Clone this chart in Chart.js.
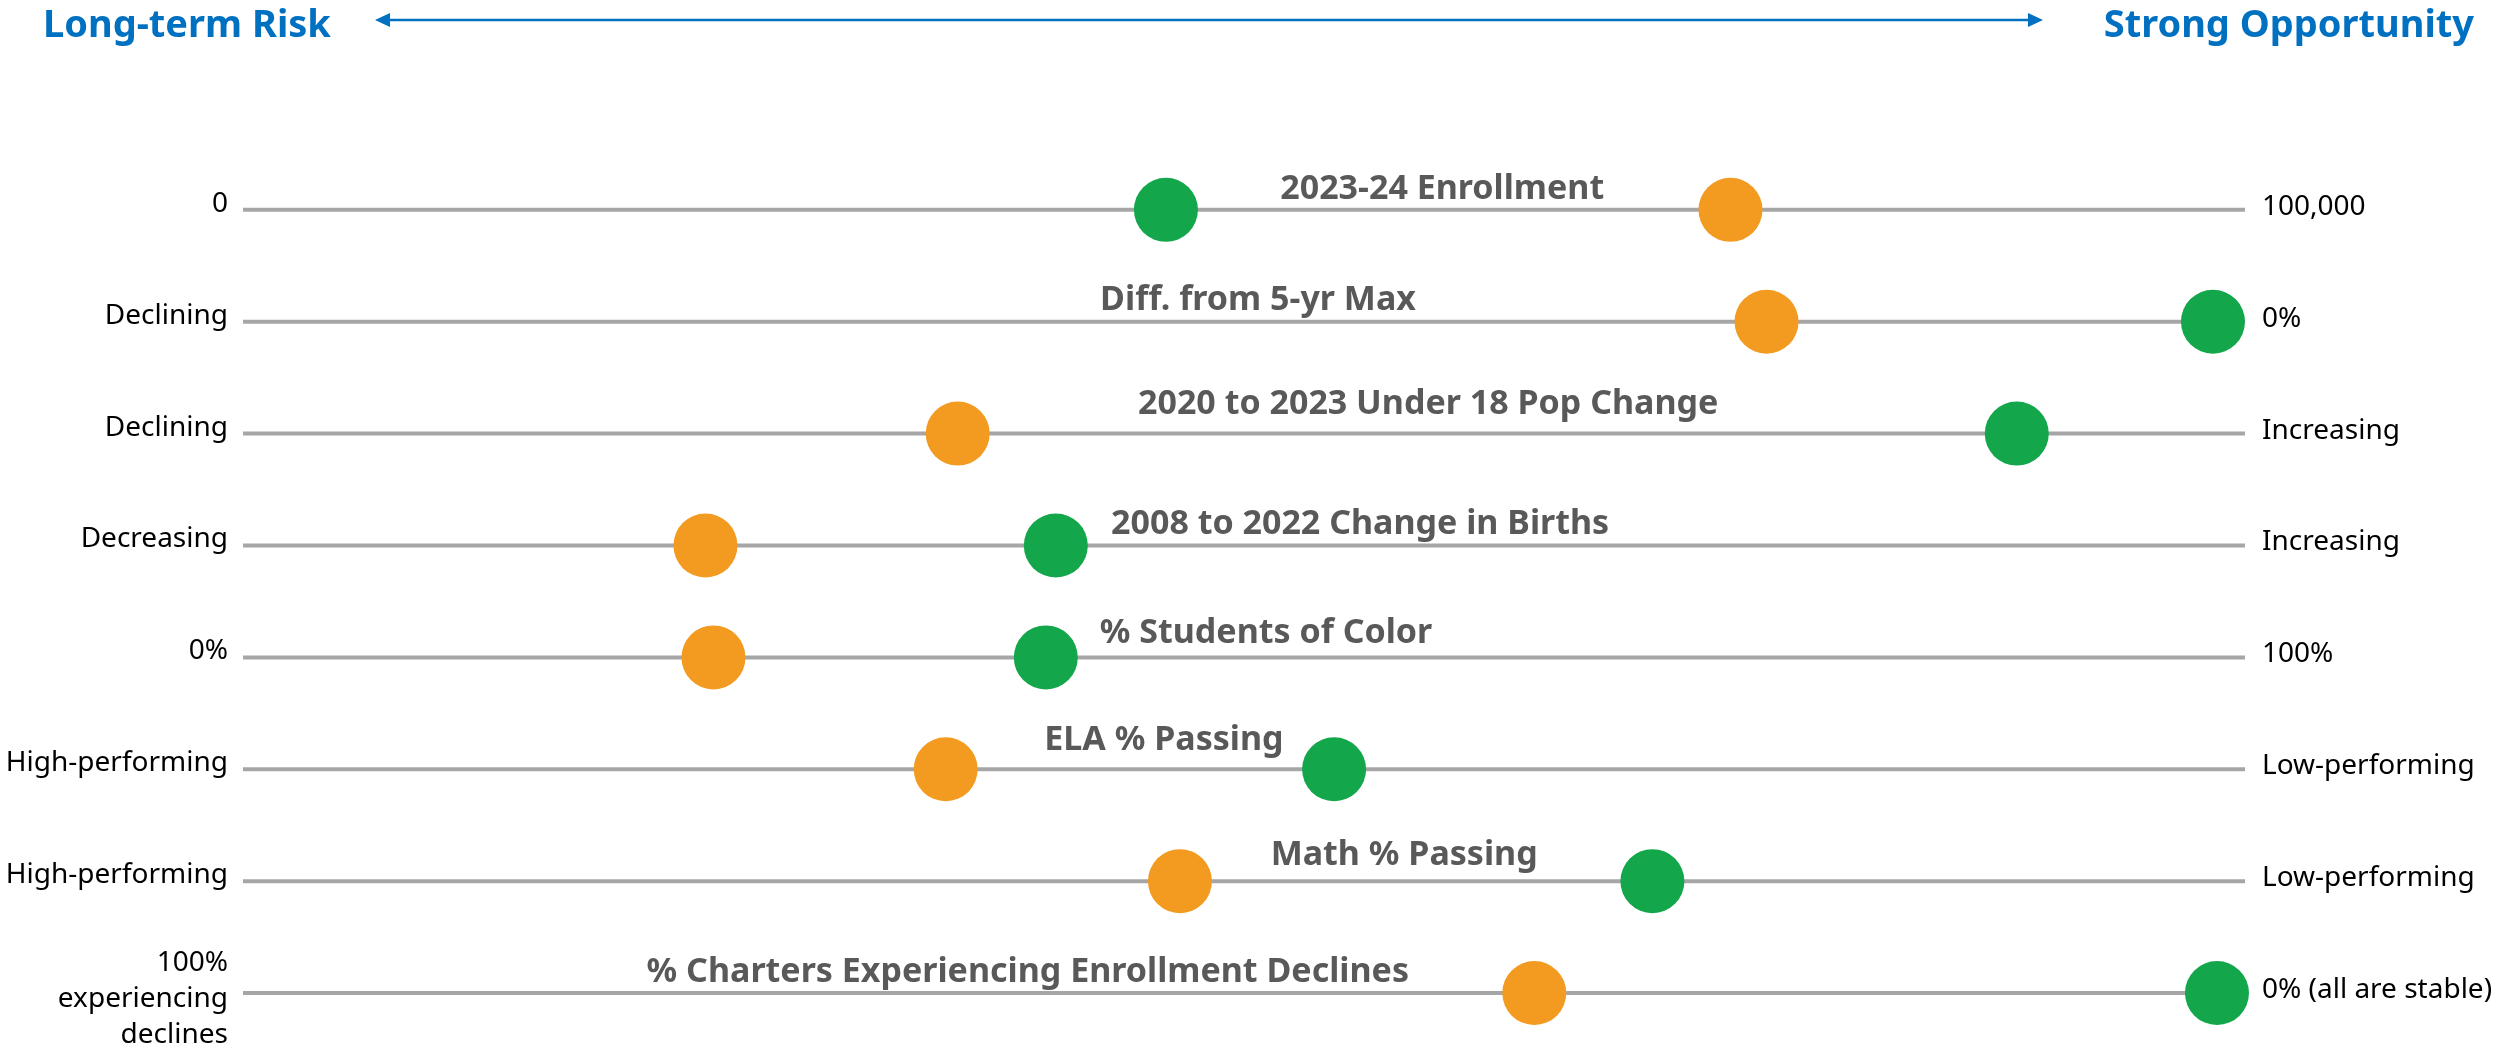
<!DOCTYPE html>
<html>
<head>
<meta charset="utf-8">
<script src="https://cdn.jsdelivr.net/npm/chart.js@4.4.1/dist/chart.umd.min.js"></script>
<style>
  html, body { margin: 0; padding: 0; background: #fff; }
  #wrap { width: 2509px; height: 1060px; }
</style>
</head>
<body>
<div id="wrap"><canvas id="chart" width="2509" height="1060"></canvas></div>
<script>
// one row per indicator, positions on a 0 (risk) .. 100 (opportunity) scale
const metrics = [
    '2023-24 Enrollment',
    'Diff. from 5-yr Max',
    '2020 to 2023 Under 18 Pop Change',
    '2008 to 2022 Change in Births',
    '% Students of Color',
    'ELA % Passing',
    'Math % Passing',
    '% Charters Experiencing Enrollment Declines'
];
const leftLabels = ['0', 'Declining', 'Declining', 'Decreasing', '0%', 'High-performing', 'High-performing', '100%\nexperiencing\ndeclines'];
const rightLabels = ['100,000', '0%', 'Increasing', 'Increasing', '100%', 'Low-performing', 'Low-performing', '0% (all are stable)'];
const orangeValues = [74.3, 76.1, 35.7, 23.1, 23.5, 35.1, 46.8, 64.5];
const greenValues = [46.1, 98.4, 88.6, 40.6, 40.1, 54.5, 70.4, 98.6];

// title placement: centre along the scale, baseline height above the row line (px)
const titleAt = [59.9, 50.7, 59.2, 55.8, 51.1, 46.0, 58.0, 39.2];
const titleRise = [11, 12, 20, 12, 14, 19, 16, 11];

const BLUE = '#0070c0';
const ORANGE = '#f39a21';
const GREEN = '#13a64b';

const rowsPlugin = {
    id: 'rows',
    beforeDatasetsDraw(chart) {
        const { ctx, scales: { x, y } } = chart;
        ctx.save();
        ctx.strokeStyle = '#a6a6a6';
        ctx.lineWidth = 4;
        metrics.forEach((m, i) => {
            const py = y.getPixelForValue(i);
            ctx.beginPath();
            ctx.moveTo(x.getPixelForValue(0), py);
            ctx.lineTo(x.getPixelForValue(100), py);
            ctx.stroke();
        });
        ctx.restore();
    },
    afterDatasetsDraw(chart) {
        const { ctx, scales: { x, y } } = chart;
        ctx.save();

        // row titles
        ctx.fillStyle = '#595959';
        ctx.font = 'bold 34px "Noto Sans"';
        ctx.textAlign = 'center';
        ctx.textBaseline = 'alphabetic';
        metrics.forEach((m, i) => {
            ctx.fillText(m, x.getPixelForValue(titleAt[i]), y.getPixelForValue(i) - titleRise[i]);
        });

        // end labels
        ctx.textBaseline = 'middle';
        ctx.fillStyle = '#000';
        ctx.font = '28px "Noto Sans"';
        const lineH = 36;
        leftLabels.forEach((txt, i) => {
            const lines = txt.split('\n');
            const py = y.getPixelForValue(i) - 6 - (lines.length - 1) * lineH / 2;
            ctx.textAlign = 'right';
            lines.forEach((l, k) => ctx.fillText(l, x.left - 15, py + k * lineH + (lines.length > 1 ? 12 : 0)));
        });
        ctx.textAlign = 'left';
        rightLabels.forEach((txt, i) => {
            ctx.fillText(txt, x.right + 17, y.getPixelForValue(i) - 3);
        });

        // header with double arrow
        ctx.fillStyle = BLUE;
        ctx.font = 'bold 38px "Noto Sans"';
        ctx.textAlign = 'left';
        ctx.fillText('Long-term Risk', 43, 26);
        ctx.textAlign = 'right';
        ctx.fillText('Strong Opportunity', 2474, 26);

        const ay = 20, ax0 = 375, ax1 = 2043;
        ctx.strokeStyle = BLUE;
        ctx.lineWidth = 2.5;
        ctx.beginPath();
        ctx.moveTo(ax0 + 10, ay);
        ctx.lineTo(ax1 - 10, ay);
        ctx.stroke();
        ctx.beginPath();
        ctx.moveTo(ax0, ay);
        ctx.lineTo(ax0 + 15, ay - 7);
        ctx.lineTo(ax0 + 15, ay + 7);
        ctx.closePath();
        ctx.fill();
        ctx.beginPath();
        ctx.moveTo(ax1, ay);
        ctx.lineTo(ax1 - 15, ay - 7);
        ctx.lineTo(ax1 - 15, ay + 7);
        ctx.closePath();
        ctx.fill();
        ctx.restore();
    }
};

const toPoints = (vals) => vals.map((v, i) => ({ x: v, y: i }));

new Chart(document.getElementById('chart'), {
    type: 'scatter',
    data: {
        datasets: [
            {
                label: 'Orange',
                data: toPoints(orangeValues),
                backgroundColor: ORANGE,
                borderWidth: 0,
                pointRadius: 32,
                pointHoverRadius: 32,
                clip: false
            },
            {
                label: 'Green',
                data: toPoints(greenValues),
                backgroundColor: GREEN,
                borderWidth: 0,
                pointRadius: 32,
                pointHoverRadius: 32,
                clip: false
            }
        ]
    },
    options: {
        responsive: false,
        animation: false,
        devicePixelRatio: 1,
        layout: { autoPadding: false, padding: { left: 243, right: 264, top: 42, bottom: 11 } },
        scales: {
            x: { type: 'linear', min: 0, max: 100, display: false },
            y: { type: 'linear', min: -1.5, max: 7.5, reverse: true, display: false }
        },
        plugins: { legend: { display: false }, tooltip: { enabled: false } },
        events: []
    },
    plugins: [rowsPlugin]
});
</script>
</body>
</html>
